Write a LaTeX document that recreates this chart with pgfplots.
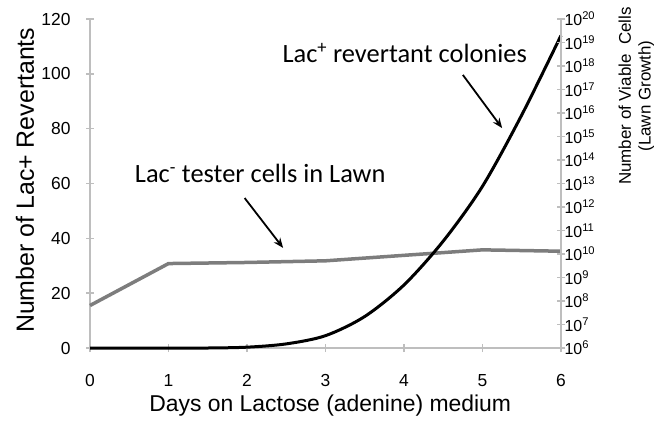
\documentclass[border=0pt]{standalone}
\usepackage{pgfplots}
\pgfplotsset{compat=1.18}
\usetikzlibrary{arrows.meta}
\usepackage{fontspec}
\setmainfont{Liberation Sans}
\newfontfamily\carlito{Carlito}
\definecolor{axgray}{RGB}{190,190,190}
\definecolor{linegray}{RGB}{125,125,125}
\begin{document}
\begin{tikzpicture}
\begin{axis}[
 scale only axis, width=471bp, height=329bp,
 xmin=0, xmax=6, ymin=0, ymax=120,
 axis x line*=bottom, axis y line*=left,
 axis line style={axgray, line width=1.5bp, -},
 xtick={0,...,6}, ytick={0,20,...,120},
 tick align=center, major tick length=8bp,
 tick style={axgray, line width=1.5bp},
 /pgf/number format/assume math mode=true,
 xticklabel style={font=\fontsize{17.5}{20}\selectfont, yshift=-19bp},
 yticklabel style={font=\fontsize{17.5}{20}\selectfont, xshift=-12bp},
 xlabel={Days on Lactose (adenine) medium},
 ylabel={Number of Lac+ Revertants},
 xlabel style={font=\fontsize{23}{26}\selectfont, inner sep=0pt, at={(axis description cs:0.51,-0.176)}, anchor=center},
 ylabel style={font=\fontsize{25}{28}\selectfont, inner sep=0pt, at={(axis description cs:-0.138,0.51)}, anchor=center},
 clip=false,
]
\addplot[linegray, line width=3.5bp] coordinates {(0,15.5)(1,30.8)(2,31.2)(3,31.8)(4,33.8)(5,35.8)(6,35.3)};
\addplot[black, line width=3bp, smooth] coordinates {(0,0)(1,0)(1.5,0)(2,0.3)(2.5,1.5)(3,4.5)(3.5,11.5)(4,23)(4.5,39)(5,59)(5.5,85)(6,114)};
\node[anchor=base west, font=\carlito\fontsize{26.5}{30}\selectfont, inner sep=0pt] at (axis cs:2.45,104) {Lac\textsuperscript{+} revertant colonies};
\node[anchor=base west, font=\carlito\fontsize{26.5}{30}\selectfont, inner sep=0pt] at (axis cs:0.57,60.2) {Lac\textsuperscript{-} tester cells in Lawn};
\draw[-{Stealth[length=10bp,width=8bp]}, line width=1.8bp] (axis cs:4.75,99.6) -- (axis cs:5.25,80.2);
\draw[-{Stealth[length=10bp,width=8bp]}, line width=1.8bp] (axis cs:1.97,54.7) -- (axis cs:2.46,36.5);
\end{axis}
\begin{axis}[
 scale only axis, width=471bp, height=329bp,
 xmin=0, xmax=6, ymode=log, ymin=1e6, ymax=1e20,
 axis y line*=right, axis x line=none,
 axis line style={axgray, line width=1.5bp, -},
 ytick={1e6,1e7,1e8,1e9,1e10,1e11,1e12,1e13,1e14,1e15,1e16,1e17,1e18,1e19,1e20},
 yticklabels={10\textsuperscript{6},10\textsuperscript{7},10\textsuperscript{8},10\textsuperscript{9},10\textsuperscript{10},10\textsuperscript{11},10\textsuperscript{12},10\textsuperscript{13},10\textsuperscript{14},10\textsuperscript{15},10\textsuperscript{16},10\textsuperscript{17},10\textsuperscript{18},10\textsuperscript{19},10\textsuperscript{20}},
 yminorticks=false,
 tick align=center, major tick length=8bp,
 tick style={axgray, line width=1.5bp},
 yticklabel style={font=\fontsize{16}{18}\selectfont, xshift=-4bp},
 ylabel={Number of Viable\ \ Cells\\(Lawn Growth)},
 ylabel style={font=\fontsize{17}{20}\selectfont, align=center, at={(axis description cs:1.16,0.766)}, anchor=center},
]
\addplot[draw=none] coordinates {(0,1e6)(6,1e20)};
\end{axis}
\path ([shift={(-90bp,-72bp)}]current axis.south west) rectangle ([shift={(101bp,19bp)}]current axis.north east);
\end{tikzpicture}
\end{document}
